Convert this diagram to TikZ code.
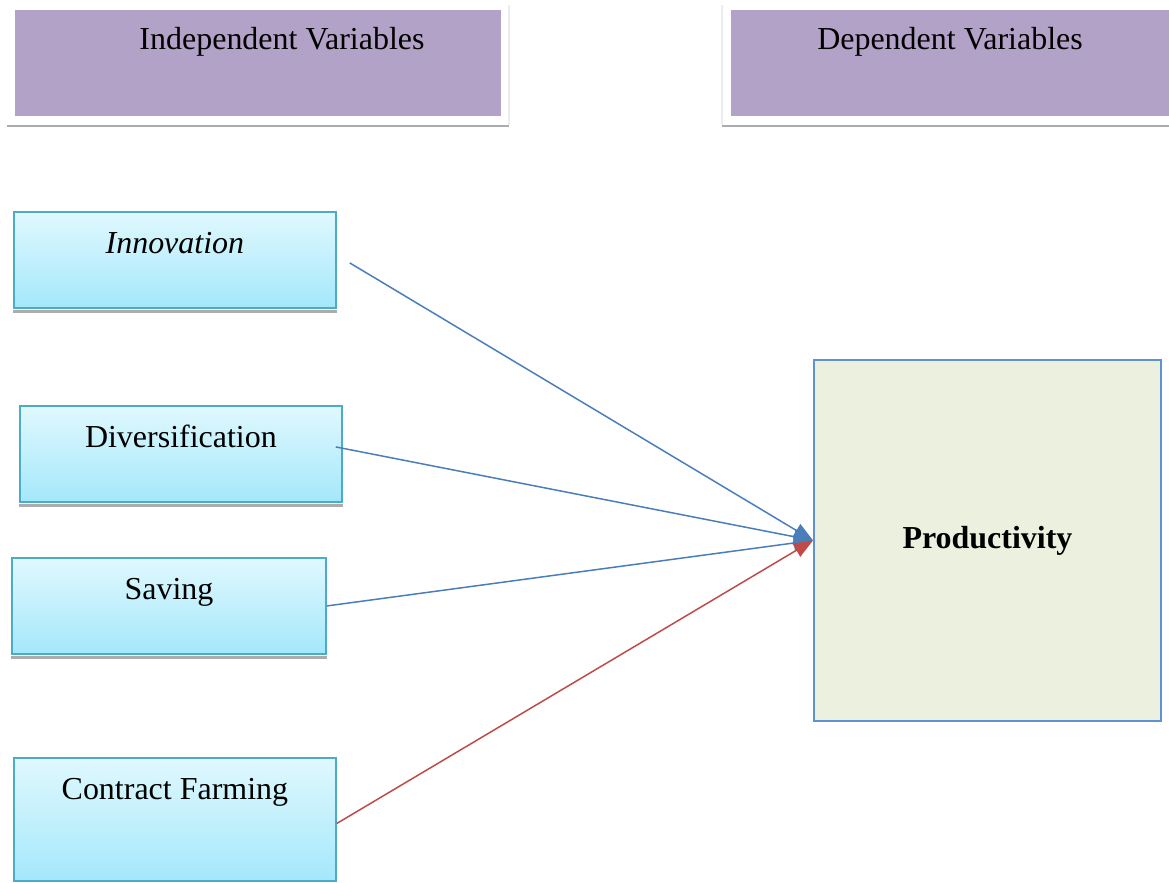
\documentclass[tikz,border=0pt]{standalone}
\usepackage{fontspec}
\setmainfont{Liberation Serif}
\usetikzlibrary{arrows.meta}
\definecolor{headfill}{HTML}{B3A2C7}
\definecolor{boxtop}{HTML}{E0F8FE}
\definecolor{boxbottom}{HTML}{A4E8FB}
\definecolor{boxline}{HTML}{4BACC6}
\definecolor{prodfill}{HTML}{EBF1DE}
\definecolor{prodline}{HTML}{5E92D2}
\definecolor{arrblue}{HTML}{4A7EBB}
\definecolor{arrred}{HTML}{BE4B48}
\tikzset{
    headbox/.style={fill=headfill, inner sep=0, anchor=north west},
    headtext/.style={font=\fontsize{18.2}{22}\selectfont, anchor=base},
    varbox/.style={draw=boxline, line width=1.1pt, top color=boxtop, bottom color=boxbottom,
        inner sep=0, anchor=north west, text height=23.9pt, text depth=30.7pt,
        font=\fontsize{18.2}{22}\selectfont},
    shadowline/.style={draw=gray!65, line width=1.7pt},
    faintline/.style={draw=gray!15, line width=.6pt},
    link/.style={->, line width=.85pt}
}
\begin{document}
\begin{tikzpicture}[>={Triangle[length=11pt,width=8.5pt]}, x=0.02cm, y=-0.02cm]
\useasboundingbox (0,0) rectangle (1169,882);
% header boxes
\node[headbox, minimum width=276.6pt, minimum height=60.3pt] (indep) at (15,10) {};
\node[headbox, minimum width=249.2pt, minimum height=60.3pt] (dep) at (731,10) {};
\node[headtext] (indep-text) at (282,50) {Independent Variables};
\node[headtext] (dep-text) at (950,50) {Dependent Variables};
\draw[shadowline] (7,126)--(509,126);
\draw[shadowline] (722,126)--(1169,126);
\draw[faintline] (509,5)--(509,125);
\draw[faintline] (722,5)--(722,125);
% independent variables
\node[varbox, minimum width=183.2pt] (inno) at (13,211) {\itshape Innovation};
\node[varbox, minimum width=183.2pt] (div) at (19,405) {Diversification};
\node[varbox, minimum width=178.7pt] (sav) at (11,557) {Saving};
\node[varbox, minimum width=183.2pt, text depth=46.1pt] (contract) at (13,757) {Contract Farming};
\foreach \n in {inno,div,sav}
{
    \draw[shadowline] ([yshift=-1.3pt]\n.south west)--([yshift=-1.3pt]\n.south east);
}
% dependent variable
\node[draw=prodline, line width=1.1pt, fill=prodfill, anchor=north west,
    minimum width=197.5pt, minimum height=205.4pt,
    font=\fontsize{18.2}{22}\selectfont\bfseries] (prod) at (813,359) {Productivity};
% links
\draw[link, arrblue] ([shift={(13,3)}]inno.east)--(prod.west);
\draw[link, arrblue] ([shift={(-7,-7)}]div.east)--(prod.west);
\draw[link, arrblue] (sav.east)--(prod.west);
\draw[link, arrred] ([shift={(0,4)}]contract.east)--(prod.west);
\end{tikzpicture}
\end{document}
